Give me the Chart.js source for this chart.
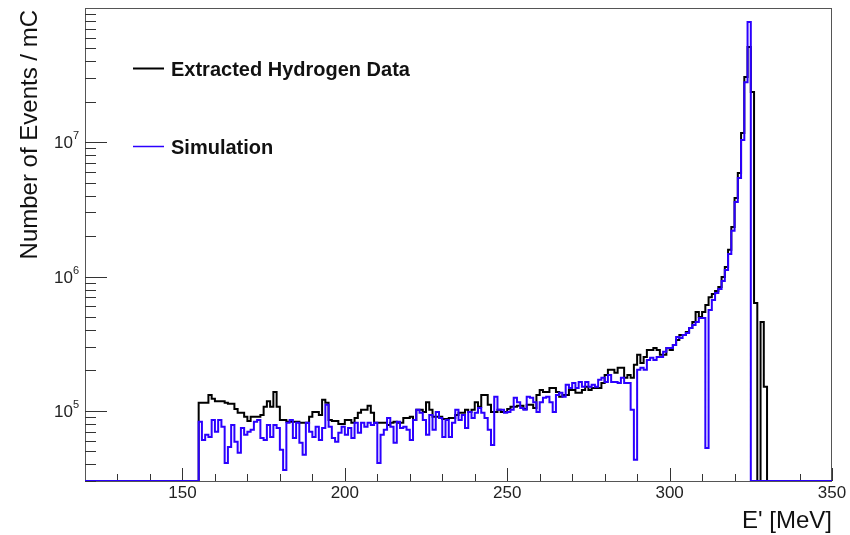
<!DOCTYPE html>
<html>
<head>
<meta charset="utf-8">
<script src="https://cdn.jsdelivr.net/npm/chart.js@4.4.0/dist/chart.umd.min.js"></script>
<style>
  html, body { margin: 0; padding: 0; background: #fff; }
</style>
</head>
<body>
<canvas id="js--chart--spectrum" width="850" height="535"></canvas>
<script>
// binning of both histograms (MeV)
const binStart = 155;
const binWidth = 1;

// extracted hydrogen data, events / mC, one value per bin from 155 MeV
const dataCounts = [
  1.15e5, 1.15e5, 1.15e5, 1.31e5, 1.23e5, 1.18e5, 1.18e5, 1.18e5, 1.15e5, 1.13e5,
  1.13e5, 1.03e5, 9.65e4, 9.65e4, 9.01e4, 8.41e4, 9.01e4, 9.01e4, 9.01e4, 9.32e4,
  1.07e5, 1.18e5, 1.07e5, 1.38e5, 1.07e5, 8.55e4, 8.55e4, 8.27e4, 8.27e4, 8.27e4,
  8.27e4, 8.13e4, 8.13e4, 8.13e4, 9.01e4, 9.81e4, 9.81e4, 9.32e4, 1.21e5, 1.15e5,
  8.55e4, 8.41e4, 8.41e4, 7.99e4, 7.99e4, 8.55e4, 8.55e4, 8.13e4, 8.85e4, 9.65e4,
  1.02e5, 1.02e5, 1.09e5, 9.65e4, 8.13e4, 8.13e4, 8.13e4, 8.13e4, 7.85e4, 8.13e4,
  8.27e4, 8.13e4, 8.13e4, 8.85e4, 8.85e4, 9.01e4, 8.55e4, 1.02e5, 1.02e5, 9.81e4,
  1.16e5, 1.02e5, 9.01e4, 9.01e4, 9.01e4, 8.70e4, 8.70e4, 8.85e4, 8.85e4, 9.32e4,
  9.65e4, 9.65e4, 1.02e5, 9.81e4, 1.02e5, 1.16e5, 1.07e5, 1.31e5, 1.31e5, 1.11e5,
  9.81e4, 9.81e4, 1.02e5, 9.81e4, 9.81e4, 1.03e5, 1.07e5, 1.07e5, 1.09e5, 1.09e5,
  1.03e5, 1.11e5, 1.11e5, 1.05e5, 1.31e5, 1.43e5, 1.38e5, 1.38e5, 1.48e5, 1.48e5,
  1.38e5, 1.27e5, 1.31e5, 1.31e5, 1.43e5, 1.43e5, 1.36e5, 1.36e5, 1.43e5, 1.51e5,
  1.43e5, 1.48e5, 1.48e5, 1.48e5, 1.61e5, 1.85e5, 2.02e5, 2.02e5, 1.92e5, 2.09e5,
  2.09e5, 1.76e5, 1.85e5, 1.76e5, 2.20e5, 2.61e5, 2.27e5, 2.52e5, 2.84e5, 2.84e5,
  2.94e5, 2.84e5, 2.61e5, 2.61e5, 2.94e5, 2.84e5, 3.09e5, 3.37e5, 3.67e5, 3.67e5,
  3.87e5, 4.14e5, 4.59e5, 5.45e5, 5.00e5, 5.45e5, 6.14e5, 7.00e5, 7.40e5, 7.80e5,
  8.37e5, 9.93e5, 1.18e6, 1.58e6, 2.34e6, 3.85e6, 5.91e6, 1.17e7, 3.06e7, 5.12e7,
  2.37e7, 6.36e5, 0, 4.59e5, 1.51e5
];

// simulation, events / mC, same bins
const simCounts = [
  8.27e4, 6.07e4, 6.62e4, 6.39e4, 8.55e4, 6.97e4, 8.55e4, 7.59e4, 4.09e4, 5.38e4,
  7.85e4, 5.87e4, 4.86e4, 7.46e4, 6.62e4, 6.97e4, 7.21e4, 8.27e4, 8.55e4, 6.28e4,
  6.07e4, 7.85e4, 6.39e4, 7.85e4, 7.46e4, 5.12e4, 3.63e4, 8.13e4, 8.55e4, 6.28e4,
  8.13e4, 5.77e4, 4.70e4, 8.13e4, 6.97e4, 6.39e4, 7.59e4, 6.07e4, 7.46e4, 1.11e5,
  7.59e4, 6.28e4, 5.87e4, 6.85e4, 7.59e4, 6.62e4, 7.46e4, 6.28e4, 8.13e4, 6.85e4,
  8.13e4, 7.59e4, 8.13e4, 7.85e4, 8.13e4, 4.09e4, 6.62e4, 7.21e4, 8.85e4, 7.59e4,
  5.77e4, 8.27e4, 7.46e4, 7.59e4, 7.21e4, 6.07e4, 8.55e4, 1.02e5, 9.65e4, 8.55e4,
  6.62e4, 9.32e4, 7.21e4, 9.81e4, 8.85e4, 6.39e4, 8.55e4, 6.39e4, 8.13e4, 1.02e5,
  8.55e4, 9.32e4, 7.46e4, 9.81e4, 8.85e4, 9.65e4, 1.05e5, 9.65e4, 8.85e4, 7.21e4,
  5.57e4, 1.27e5, 1.02e5, 1.02e5, 9.65e4, 9.81e4, 1.02e5, 1.25e5, 1.16e5, 1.05e5,
  1.02e5, 1.27e5, 1.25e5, 1.16e5, 9.81e4, 1.16e5, 1.25e5, 1.27e5, 1.16e5, 9.81e4,
  1.31e5, 1.36e5, 1.27e5, 1.56e5, 1.48e5, 1.61e5, 1.48e5, 1.64e5, 1.51e5, 1.64e5,
  1.51e5, 1.56e5, 1.51e5, 1.70e5, 1.76e5, 1.64e5, 1.85e5, 1.64e5, 1.64e5, 1.61e5,
  1.76e5, 1.61e5, 1.61e5, 1.02e5, 4.31e4, 2.02e5, 2.09e5, 2.02e5, 2.39e5, 2.48e5,
  2.39e5, 2.52e5, 2.52e5, 2.75e5, 2.94e5, 2.94e5, 3.09e5, 3.55e5, 3.49e5, 3.67e5,
  3.80e5, 4.14e5, 4.36e5, 4.59e5, 4.92e5, 4.92e5, 5.29e4, 5.64e5, 6.69e5, 7.55e5,
  8.09e5, 9.27e5, 1.12e6, 1.47e6, 2.19e6, 3.59e6, 5.42e6, 1.04e7, 2.80e7, 7.87e7,
  0, 0, 0, 0, 0
];

const seriesLabels = ["Extracted Hydrogen Data", "Simulation"];
const xTickLabels = [150, 200, 250, 300, 350];
const yTickLabels = [1e5, 1e6, 1e7];
const xMin = 120, xMax = 350;
const yMin = 3e4, yMax = 1e8;

const black = "#000000";
const blue = "#2b00ff";
const textFont = '"Liberation Sans", Arial, Helvetica, sans-serif';

// histogram as step points: value of a bin starts at its low edge
function histPoints(counts) {
    let pts = [{ x: xMin, y: yMin }];
    for (let i = 0; i < counts.length; i++) {
        pts.push({ x: binStart + i * binWidth, y: counts[i] > 0 ? counts[i] : yMin });
    }
    pts.push({ x: binStart + counts.length * binWidth, y: yMin });
    pts.push({ x: xMax, y: yMin });
    return pts;
}

// ROOT-like frame, ticks, labels and legend
const rootStyle = {
    id: "rootStyle",
    beforeDatasetsDraw(chart) {
        const { ctx, chartArea: a, scales: { x, y } } = chart;
        ctx.save();
        ctx.strokeStyle = "#555";
        ctx.lineWidth = 1;
        ctx.strokeRect(a.left + 0.5, a.top + 0.5, a.right - a.left - 1, a.bottom - a.top);

        // x ticks, pointing up into the frame
        ctx.strokeStyle = "#333";
        ctx.beginPath();
        for (let v = 130; v <= xMax; v += 10) {
            const px = Math.round(x.getPixelForValue(v)) + 0.5;
            const len = v % 50 === 0 ? 13 : 7;
            ctx.moveTo(px, a.bottom);
            ctx.lineTo(px, a.bottom - len);
        }
        // y ticks, pointing right into the frame
        for (let d = 1e4; d < yMax; d *= 10) {
            for (let m = 1; m <= 9; m++) {
                const v = d * m;
                if (v < yMin || v > yMax) continue;
                const py = Math.round(y.getPixelForValue(v)) + 0.5;
                const len = m === 1 ? 22 : 11;
                ctx.moveTo(a.left, py);
                ctx.lineTo(a.left + len, py);
            }
        }
        ctx.stroke();
        ctx.restore();
    },
    afterDraw(chart) {
        const { ctx, chartArea: a, scales: { x, y } } = chart;
        ctx.save();
        ctx.fillStyle = "#222";

        // x tick labels
        ctx.font = "17px " + textFont;
        ctx.textAlign = "center";
        ctx.textBaseline = "alphabetic";
        for (const v of xTickLabels) {
            ctx.fillText(String(v), x.getPixelForValue(v), 498);
        }

        // y tick labels as 10^n
        for (const v of yTickLabels) {
            const py = y.getPixelForValue(v);
            const exp = String(Math.round(Math.log10(v)));
            ctx.textAlign = "right";
            ctx.font = "11px " + textFont;
            const ew = ctx.measureText(exp).width;
            ctx.fillText(exp, 79, py - 3);
            ctx.font = "17px " + textFont;
            ctx.fillText("10", 79 - ew, py + 6);
        }

        // axis titles
        ctx.fillStyle = "#111";
        ctx.font = "24px " + textFont;
        ctx.textAlign = "right";
        ctx.fillText("E' [MeV]", a.right, 528);

        ctx.save();
        ctx.translate(37, a.top);
        ctx.rotate(-Math.PI / 2);
        ctx.textAlign = "right";
        ctx.fillText("Number of Events / mC", -2, 0);
        ctx.restore();

        // legend
        const rows = [
            { text: seriesLabels[0], color: black, y: 68.5, width: 2 },
            { text: seriesLabels[1], color: blue, y: 146.5, width: 1.5 }
        ];
        ctx.font = "bold 20px " + textFont;
        ctx.textAlign = "left";
        for (const r of rows) {
            ctx.strokeStyle = r.color;
            ctx.lineWidth = r.width;
            ctx.beginPath();
            ctx.moveTo(133, r.y);
            ctx.lineTo(164, r.y);
            ctx.stroke();
            ctx.fillStyle = "#111";
            ctx.fillText(r.text, 171, r.y + 7);
        }
        ctx.restore();
    }
};

const config = {
    type: "line",
    data: {
        datasets: [
            {
                label: seriesLabels[0],
                data: histPoints(dataCounts),
                borderColor: black,
                borderWidth: 2,
                order: 2
            },
            {
                label: seriesLabels[1],
                data: histPoints(simCounts),
                borderColor: blue,
                borderWidth: 2,
                order: 1
            }
        ]
    },
    options: {
        responsive: false,
        animation: false,
        devicePixelRatio: 1,
        layout: { padding: { left: 85, right: 18, top: 8, bottom: 54 } },
        elements: {
            line: { stepped: true, tension: 0, fill: false, borderJoinStyle: "miter", borderCapStyle: "butt" },
            point: { radius: 0, hoverRadius: 0 }
        },
        plugins: { legend: { display: false }, tooltip: { enabled: false } },
        scales: {
            x: { type: "linear", min: xMin, max: xMax, display: false },
            y: { type: "logarithmic", min: yMin, max: yMax, display: false }
        }
    },
    plugins: [rootStyle]
};

new Chart(document.getElementById("js--chart--spectrum"), config);
</script>
</body>
</html>
